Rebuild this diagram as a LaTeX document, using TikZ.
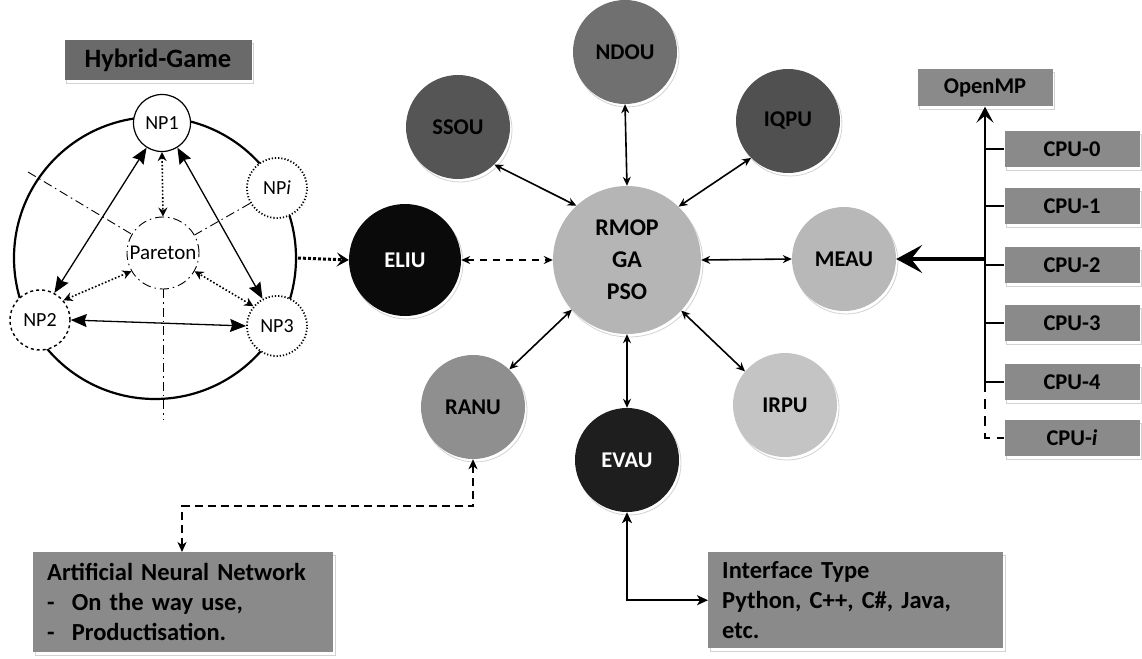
\documentclass[tikz,border=0pt]{standalone}
\usepackage{fontspec}
\setmainfont{Carlito}
\usetikzlibrary{arrows.meta,shadows,calc}
\definecolor{boxgray}{HTML}{8A8A8A}
\definecolor{hybgray}{HTML}{6A6A6A}
\definecolor{cssou}{HTML}{555555}
\definecolor{ciqpu}{HTML}{505050}
\definecolor{cndou}{HTML}{707070}
\definecolor{celiu}{HTML}{0A0A0A}
\definecolor{crmop}{HTML}{B5B5B5}
\definecolor{cmeau}{HTML}{B8B8B8}
\definecolor{cirpu}{HTML}{C4C4C4}
\definecolor{cranu}{HTML}{8F8F8F}
\definecolor{cevau}{HTML}{1E1E1E}
\tikzset{
  shad/.style={drop shadow={shadow xshift=2pt, shadow yshift=-3pt, fill=white, draw=gray!70, line width=0.8pt}},
  unit/.style={circle, minimum size=104pt, inner sep=0pt, shad,
    font=\fontsize{22.5}{26}\selectfont\bfseries},
  boxnode/.style={rectangle, fill=boxgray, inner sep=0pt, shad,
    font=\fontsize{22.5}{26}\selectfont\bfseries},
  textbox/.style={rectangle, fill=boxgray, shad, anchor=north west, align=left,
    inner xsep=14pt, inner ysep=8pt, font=\fontsize{24.5}{30}\selectfont\bfseries},
  np/.style={circle, draw, fill=white, minimum size=57pt, inner sep=0pt, line width=1.2pt,
    font=\fontsize{20}{22}\selectfont},
  hyarrow/.style={line width=1.3pt, {Stealth[length=16pt,width=13pt,inset=2pt]}-{Stealth[length=16pt,width=13pt,inset=2pt]}},
  dotarrow/.style={line width=1.6pt, dotted, {Stealth[length=9pt,width=9pt,inset=3pt]}-{Stealth[length=9pt,width=9pt,inset=3pt]}},
  dashdot/.style={line width=0.9pt, dash pattern=on 9pt off 4pt on 1.5pt off 4pt},
  biarrow/.style={line width=1.6pt, {Stealth[length=9pt,width=8pt]}-{Stealth[length=9pt,width=8pt]}},
  barb/.style={-{Stealth[length=26pt,width=28pt,inset=11pt]}},
}
\begin{document}
\begin{tikzpicture}[x=1pt,y=-1pt]
\useasboundingbox (0,0) rectangle (1142,658);

% ---------- Hybrid game ----------
\node[rectangle, fill=hybgray, minimum width=187pt, minimum height=40pt, inner sep=0pt, shad,
  font=\fontsize{26.5}{28}\selectfont\bfseries] (hyb) at (158,60) {Hybrid-Game};
\draw[line width=2.2pt] (155,258) circle[radius=141];
\node[circle, draw, fill=white, minimum size=72pt, inner sep=0pt, dashdot,
  font=\fontsize{21}{23}\selectfont] (pareto) at (163,253) {Pareton};
\coordinate (dl) at (28,172);
\coordinate (dd) at (163,420);
\node[np] (np1) at (162,123) {NP1};
\node[np, dotted, line width=1.8pt, minimum size=60pt] (npi) at (277,188) {NP\textit{i}};
\node[np, dashed, line width=1.4pt, minimum size=60pt] (np2) at (40,320) {NP2};
\node[np, dotted, line width=1.8pt, minimum size=60pt] (np3) at (277,326) {NP3};
\draw[dashdot] (dl) -- (pareto);
\draw[dashdot] (npi) -- (pareto);
\draw[dashdot] (pareto.south) -- (dd);
\draw[hyarrow] (np1.238) -- (np2.62);
\draw[hyarrow] (np1.302) -- (np3.118);
\draw[hyarrow] (np2.east) -- (np3.west);
\draw[dotarrow] (np1.south) -- (pareto.north);
\draw[dotarrow] (np2.40) -- (pareto.210);
\draw[dotarrow] (np3.140) -- (pareto.330);

% ---------- Units ----------
\node[unit, fill=cssou] (ssou) at (458,127) {SSOU};
\node[unit, fill=cndou] (ndou) at (625,52) {NDOU};
\node[unit, fill=ciqpu] (iqpu) at (788,121) {IQPU};
\node[unit, fill=celiu, text=white, minimum size=112pt] (eliu) at (405,260) {ELIU};
\node[unit, fill=crmop, minimum size=148pt, align=center,
  font=\fontsize{24}{32}\selectfont\bfseries] (rmop) at (627,260) {RMOP\\GA\\PSO};
\node[unit, fill=cmeau] (meau) at (844,259) {MEAU};
\node[unit, fill=cranu] (ranu) at (473,407) {RANU};
\node[unit, fill=cevau, text=white] (evau) at (627,460) {EVAU};
\node[unit, fill=cirpu] (irpu) at (785,405) {IRPU};

\draw[line width=3pt, dotted, -{Stealth[length=12pt,width=14pt,inset=5pt]}] (298,258) coordinate (hyout) -- (eliu.west);

\draw[biarrow] (rmop.133) -- (ssou.-46);
\draw[biarrow] (rmop.north) -- (ndou.south);
\draw[biarrow] (rmop.46) -- (iqpu.225);
\draw[biarrow] (rmop.east) -- (meau.west);
\draw[biarrow] (rmop.-43) -- (irpu.140);
\draw[biarrow] (rmop.south) -- (evau.north);
\draw[biarrow] (rmop.222) -- (ranu.46);
\draw[biarrow, dash pattern=on 7pt off 6pt] (eliu.east) -- (rmop.west);

% ---------- OpenMP / CPUs ----------
\node[boxnode, minimum width=135pt, minimum height=37pt] (omp) at (985,88) {OpenMP};
\foreach \n/\t/\y in {cpu0/CPU-0/149, cpu1/CPU-1/206, cpu2/CPU-2/265, cpu3/CPU-3/323, cpu4/CPU-4/382}
  \node[boxnode, minimum width=135pt, minimum height=36pt] (\n) at (1072,\y) {\t};
\node[boxnode, minimum width=135pt, minimum height=36pt] (cpui) at (1072,438) {CPU-\textit{i}};
\coordinate (busbot) at (985,382);
\draw[line width=2pt, -{Stealth[length=16pt,width=17pt,inset=7pt]}] (busbot) -- (omp.south);
\foreach \n in {cpu0,cpu1,cpu2,cpu3,cpu4}
  \draw[line width=1.8pt] (\n.west -| busbot) -- (\n.west);
\draw[line width=1.8pt, dash pattern=on 10pt off 7pt] (busbot) -- (cpui.west -| busbot) -- (cpui.west);
\draw[line width=3.2pt, barb] (meau.east -| busbot) -- (meau.east);

% ---------- Bottom boxes ----------
\node[textbox, text width=272pt, minimum height=100pt] (ann) at (33,552)
  {Artificial Neural Network\\-\hspace{0.7em}On the way use,\\-\hspace{0.7em}Productisation.};
\node[textbox, text width=267pt, minimum height=96pt] (iface) at (708,552)
  {Interface Type\\Python, C++, C\#, Java,\\etc.};

\draw[line width=1.8pt, dash pattern=on 8pt off 5pt,
  {Stealth[length=10pt,width=9pt,inset=3pt]}-{Stealth[length=10pt,width=9pt,inset=3pt]}]
  ([xshift=149pt]ann.north west) |- ([yshift=-47pt]ranu.south) -- (ranu.south);
\draw[line width=1.8pt, {Stealth[length=11pt,width=10pt,inset=3pt]}-{Stealth[length=11pt,width=10pt,inset=3pt]}]
  (evau.south) |- (iface.west);
\end{tikzpicture}
\end{document}
